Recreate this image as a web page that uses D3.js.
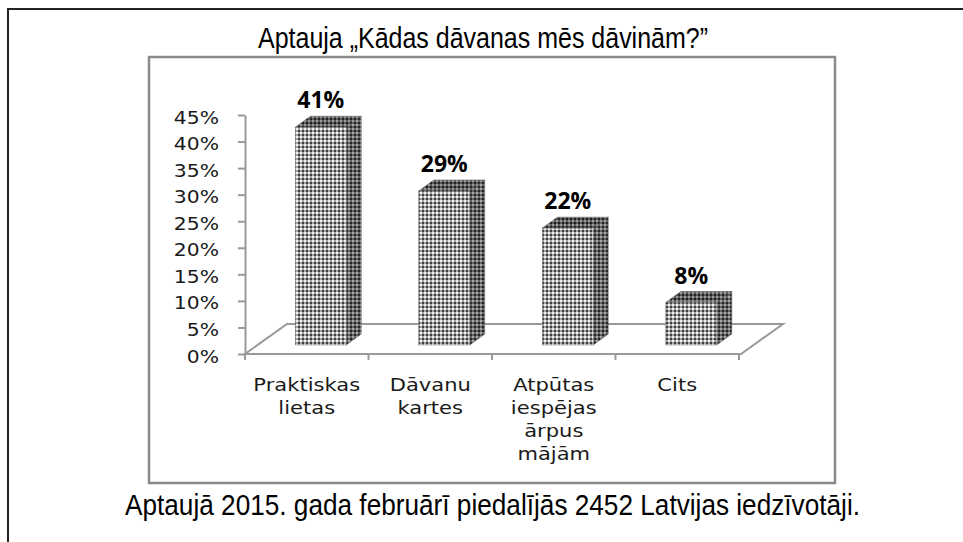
<!DOCTYPE html>
<html>
<head>
<meta charset="utf-8">
<script src="https://cdn.jsdelivr.net/npm/d3@7"></script>
<style>
  html, body { margin: 0; padding: 0; background: #fff; }
  svg { display: block; }
</style>
</head>
<body>
<script>
// ---- data ----
const title = "Aptauja „Kādas dāvanas mēs dāvinām?”";
const footer = "Aptaujā 2015. gada februārī piedalījās 2452 Latvijas iedzīvotāji.";
const categories = ["Praktiskas lietas", "Dāvanu kartes", "Atpūtas iespējas ārpus mājām", "Cits"];
const values = [41, 29, 22, 8];
const yTicks = [0, 5, 10, 15, 20, 25, 30, 35, 40, 45];

// ---- layout ----
const W = 963, H = 542;
const svg = d3.select("body").append("svg").attr("width", W).attr("height", H);

const defs = svg.append("defs");
function pat(id, base, light, dark) {
  const p = defs.append("pattern").attr("id", id).attr("patternUnits", "userSpaceOnUse")
    .attr("width", 4).attr("height", 4);
  p.append("rect").attr("width", 4).attr("height", 4).attr("fill", base);
  p.append("rect").attr("x", 0).attr("y", 0).attr("width", 2).attr("height", 2).attr("fill", light);
  p.append("rect").attr("x", 2).attr("y", 2).attr("width", 2).attr("height", 2).attr("fill", dark);
}
pat("pFront", "#a4a4a4", "#f0f0f0", "#404040");
pat("pSide", "#666666", "#a8a8a8", "#262626");
pat("pTop", "#5c5c5c", "#9a9a9a", "#222222");

// outer frame (top + left only)
svg.append("path").attr("d", `M8,${H}V9H${W}`).attr("fill", "none")
  .attr("stroke", "#222").attr("stroke-width", 2);

// inner chart box
svg.append("rect").attr("x", 149).attr("y", 57).attr("width", 686).attr("height", 426)
  .attr("fill", "#fff").attr("stroke", "#8a8a8a").attr("stroke-width", 2.5);

// title & footer
svg.append("text").attr("x", 483).attr("y", 48).attr("text-anchor", "middle")
  .attr("font-family", "Liberation Sans, Arial, sans-serif").attr("font-size", 30)
  .attr("textLength", 450).attr("lengthAdjust", "spacingAndGlyphs").attr("fill", "#000")
  .text(title);
svg.append("text").attr("x", 492.5).attr("y", 515).attr("text-anchor", "middle")
  .attr("font-family", "Liberation Sans, Arial, sans-serif").attr("font-size", 29)
  .attr("textLength", 735).attr("lengthAdjust", "spacingAndGlyphs").attr("fill", "#000")
  .text(footer);

// scales
const x = d3.scaleBand().domain(categories).range([245, 739]);
const y = d3.scaleLinear().domain([0, 45]).range([354, 115]);
const depthX = 42, depthY = -30;     // floor depth
const barW = 51, barDX = 15, barDY = -11;
const bw = x.bandwidth();
const y0 = y(0);

// floor
const xEnd = x.range()[1] + 2;
svg.append("path")
  .attr("d", `M${x.range()[0]},${y0}L${x.range()[0] + depthX},${y0 + depthY}H${xEnd + depthX}L${xEnd},${y0}Z`)
  .attr("fill", "none").attr("stroke", "#999").attr("stroke-width", 2);

// category ticks at band boundaries
const bounds = categories.map(c => x(c)).concat([x.range()[1]]);
svg.append("g").selectAll("line").data(bounds).join("line")
  .attr("x1", d => d).attr("x2", d => d).attr("y1", y0).attr("y2", y0 + 6)
  .attr("stroke", "#999").attr("stroke-width", 2);

// y axis
const yAxis = d3.axisLeft(y).tickValues(yTicks).tickFormat(d => d + "%").tickSize(7).tickSizeOuter(0);
const ga = svg.append("g").attr("transform", `translate(${x.range()[0]},0)`).call(yAxis);
ga.select(".domain").attr("stroke", "#999").attr("stroke-width", 2);
ga.selectAll(".tick line").attr("stroke", "#999").attr("stroke-width", 2);
ga.selectAll(".tick text")
  .attr("x", 0).attr("dy", null).attr("y", 0)
  .attr("transform", "translate(-26,8) scale(1.13,1)")
  .attr("text-anchor", "end")
  .attr("font-family", "DejaVu Sans, Verdana, sans-serif").attr("font-size", 18)
  .attr("fill", "#1a1a1a");

// bars
const bars = svg.append("g");
categories.forEach((c, i) => {
  const v = values[i];
  const fx = x(c) + bw / 2 - 11.5;
  const fb = y0 - 9;
  const ft = fb - (y0 - y(v));
  const g = bars.append("g");
  g.append("path")
    .attr("d", `M${fx + barW},${fb}L${fx + barW + barDX},${fb + barDY}V${ft + barDY}L${fx + barW},${ft}Z`)
    .attr("fill", "url(#pSide)").attr("stroke", "#555").attr("stroke-width", 0.5);
  g.append("path")
    .attr("d", `M${fx},${ft}L${fx + barDX},${ft + barDY}H${fx + barW + barDX}L${fx + barW},${ft}Z`)
    .attr("fill", "url(#pTop)").attr("stroke", "#555").attr("stroke-width", 0.5);
  g.append("rect").attr("x", fx).attr("y", ft).attr("width", barW).attr("height", fb - ft)
    .attr("fill", "url(#pFront)").attr("stroke", "#777").attr("stroke-width", 0.5);
  g.append("text").attr("x", fx + barW / 2).attr("y", ft + barDY - 8)
    .attr("text-anchor", "middle")
    .attr("font-family", "Open Sans, sans-serif").attr("font-weight", 700).attr("font-size", 23)
    .attr("fill", "#000").text(v + "%");
});

// category labels
const cl = svg.append("g");
categories.forEach(c => {
  const lines = c.split(" ");
  const g = cl.append("g").attr("transform", `translate(${x(c) + bw / 2},391) scale(1.17,1)`);
  g.selectAll("text").data(lines).join("text")
    .attr("x", 0).attr("y", (d, j) => j * 23)
    .attr("text-anchor", "middle")
    .attr("font-family", "DejaVu Sans, Verdana, sans-serif").attr("font-size", 18)
    .attr("fill", "#1a1a1a").text(d => d);
});
</script>
</body>
</html>
